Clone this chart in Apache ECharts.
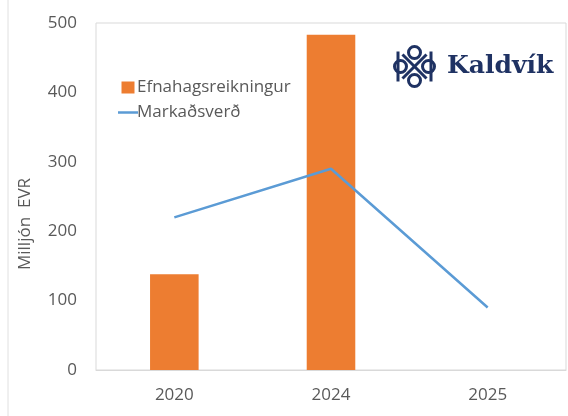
<!DOCTYPE html>
<html>
<head>
<meta charset="utf-8">
<script src="https://cdn.jsdelivr.net/npm/echarts@6/dist/echarts.min.js"></script>
<style>
    html, body { margin: 0; padding: 0; background: #fff; }
    #chart { width: 568px; height: 416px; }
</style>
</head>
<body>
<div id="chart"></div>
<script>
// gögn
var years = ['2020', '2024', '2025'];
var efnahagur = [138, 483, null];   // Efnahagsreikningur (súlur)
var markadsverd = [220, 290, 90];   // Markaðsverð (lína)
var yTicks = [0, 100, 200, 300, 400, 500];

var textColor = '#595959';
var navy = '#1F3263';

var chart = echarts.init(document.getElementById('chart'));

var option = {
    backgroundColor: '#fff',
    animation: false,
    textStyle: { fontFamily: 'Open Sans' },
    grid: {
        left: 96, top: 23, right: 2, bottom: 46,
        show: true, borderColor: '#d9d9d9', borderWidth: 1
    },
    legend: {
        left: 113, top: 74,
        orient: 'vertical',
        itemGap: 8,
        itemWidth: 20, itemHeight: 12,
        textStyle: { color: textColor, fontSize: 17, fontFamily: 'Open Sans', padding: [0, 0, 0, -6] },
        data: [
            { name: 'Efnahagsreikningur', icon: 'path://M4,0 L17,0 L17,12 L4,12 Z' },
            { name: 'Markaðsverð', icon: 'path://M4,5 L20,5 L20,7 L4,7 Z' }
        ]
    },
    xAxis: {
        type: 'category',
        data: years,
        axisLine: { lineStyle: { color: '#d9d9d9' } },
        axisTick: { show: false },
        axisLabel: { color: textColor, fontSize: 17, margin: 17 }
    },
    yAxis: {
        type: 'value',
        min: yTicks[0],
        max: yTicks[yTicks.length - 1],
        interval: 100,
        axisLine: { show: false },
        axisTick: { show: false },
        splitLine: { show: false },
        axisLabel: { color: textColor, fontSize: 17, margin: 19 }
    },
    series: [
        {
            name: 'Efnahagsreikningur',
            type: 'bar',
            data: efnahagur,
            barWidth: '31%',
            itemStyle: { color: '#ED7D31' }
        },
        {
            name: 'Markaðsverð',
            type: 'line',
            data: markadsverd,
            symbol: 'none',
            lineStyle: { color: '#5B9BD5', width: 2.5 },
            itemStyle: { color: '#5B9BD5' }
        }
    ],
    graphic: [
        // rammi vinstra megin
        { type: 'line', shape: { x1: 8, y1: 0, x2: 8, y2: 416 }, style: { stroke: '#e0e0e0', lineWidth: 1 } },
        // heiti y-áss
        {
            type: 'text', x: 25, y: 224, rotation: Math.PI / 2,
            style: {
                text: 'Milljón  EVR',
                fill: textColor,
                font: '17px "Open Sans"',
                align: 'center',
                verticalAlign: 'middle'
            }
        },
        // merki Kaldvík
        {
            type: 'group', left: 392, top: 44,
            children: [
                { type: 'circle', shape: { cx: 22, cy: 8, r: 6 }, style: { fill: 'none', stroke: navy, lineWidth: 3 } },
                { type: 'circle', shape: { cx: 22, cy: 36, r: 6 }, style: { fill: 'none', stroke: navy, lineWidth: 3 } },
                { type: 'circle', shape: { cx: 8, cy: 22, r: 6 }, style: { fill: 'none', stroke: navy, lineWidth: 3 } },
                { type: 'circle', shape: { cx: 36, cy: 22, r: 6 }, style: { fill: 'none', stroke: navy, lineWidth: 3 } },
                { type: 'rect', shape: { x: 4, y: 7, width: 3, height: 30 }, style: { fill: navy } },
                { type: 'rect', shape: { x: 37, y: 7, width: 3, height: 30 }, style: { fill: navy } },
                { type: 'line', shape: { x1: 10, y1: 10, x2: 34, y2: 34 }, style: { stroke: navy, lineWidth: 3 } },
                { type: 'line', shape: { x1: 34, y1: 10, x2: 10, y2: 34 }, style: { stroke: navy, lineWidth: 3 } }
            ]
        },
        {
            type: 'text', left: 447, top: 54,
            style: {
                text: 'Kaldvík',
                fill: navy,
                font: 'bold 25px "DejaVu Serif", "Liberation Serif", serif'
            }
        }
    ]
};

chart.setOption(option);
</script>
</body>
</html>
